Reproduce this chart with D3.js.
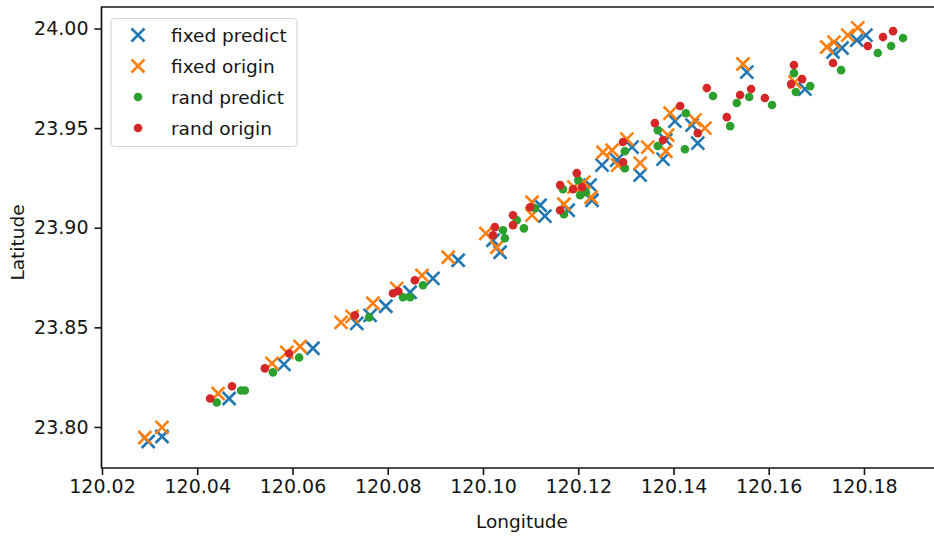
<!DOCTYPE html>
<html>
<head>
<meta charset="utf-8">
<script src="https://cdn.jsdelivr.net/npm/d3@7"></script>
<style>
  html, body { margin: 0; padding: 0; background: #fff; }
  svg { display: block; }
  text { font-family: "DejaVu Sans", sans-serif; fill: #151515; }
</style>
</head>
<body>
<svg id="chart" width="934" height="536"></svg>
<script>
// ---- data ----
const fixedPredictLon = [120.0297,120.0326,120.0467,120.0582,120.0643,120.0735,120.0763,120.0796,120.0847,120.0895,120.0948,120.1021,120.1036,120.1120,120.1130,120.1179,120.1225,120.1229,120.1250,120.1281,120.1313,120.1330,120.1378,120.1384,120.1403,120.1439,120.1451,120.1554,120.1676,120.1735,120.1754,120.1785,120.1804];
const fixedPredictLat = [23.7927,23.7952,23.8143,23.8314,23.8395,23.8520,23.8560,23.8606,23.8676,23.8746,23.8837,23.8937,23.8877,23.9113,23.9058,23.9088,23.9214,23.9138,23.9314,23.9339,23.9405,23.9264,23.9344,23.9440,23.9535,23.9515,23.9425,23.9781,23.9696,23.9882,23.9902,23.9942,23.9967];

const fixedOriginLon = [120.0290,120.0326,120.0444,120.0557,120.0588,120.0616,120.0702,120.0725,120.0769,120.0819,120.0872,120.0927,120.1006,120.1029,120.1103,120.1103,120.1170,120.1191,120.1212,120.1227,120.1252,120.1271,120.1283,120.1302,120.1330,120.1346,120.1384,120.1388,120.1393,120.1445,120.1466,120.1546,120.1655,120.1722,120.1737,120.1766,120.1787];
const fixedOriginLat = [23.7947,23.7998,23.8168,23.8319,23.8374,23.8404,23.8525,23.8555,23.8621,23.8696,23.8761,23.8852,23.8972,23.8902,23.9128,23.9063,23.9118,23.9204,23.9229,23.9153,23.9379,23.9389,23.9314,23.9445,23.9324,23.9405,23.9384,23.9465,23.9575,23.9540,23.9500,23.9822,23.9731,23.9907,23.9932,23.9967,24.0003];

const randPredictLon = [120.0441,120.0492,120.0500,120.0559,120.0614,120.0761,120.0832,120.0847,120.0874,120.1042,120.1046,120.1071,120.1086,120.1109,120.1168,120.1170,120.1200,120.1204,120.1216,120.1298,120.1298,120.1367,120.1367,120.1424,120.1426,120.1483,120.1519,120.1533,120.1559,120.1607,120.1653,120.1657,120.1687,120.1752,120.1829,120.1857,120.1882];
const randPredictLat = [23.8123,23.8183,23.8183,23.8274,23.8349,23.8550,23.8651,23.8651,23.8711,23.8987,23.8947,23.9038,23.8997,23.9098,23.9193,23.9068,23.9239,23.9163,23.9178,23.9384,23.9299,23.9490,23.9410,23.9394,23.9575,23.9661,23.9510,23.9626,23.9656,23.9616,23.9776,23.9681,23.9711,23.9791,23.9877,23.9912,23.9952];

const randOriginLon = [120.0427,120.0473,120.0542,120.0593,120.0731,120.0811,120.0822,120.0857,120.1025,120.1021,120.1063,120.1063,120.1099,120.1162,120.1162,120.1197,120.1189,120.1208,120.1294,120.1294,120.1361,120.1378,120.1414,120.1451,120.1470,120.1512,120.1540,120.1563,120.1592,120.1653,120.1647,120.1670,120.1735,120.1808,120.1840,120.1861];
const randOriginLat = [23.8143,23.8204,23.8294,23.8369,23.8560,23.8671,23.8681,23.8736,23.9003,23.8962,23.9063,23.9013,23.9103,23.9214,23.9088,23.9274,23.9193,23.9204,23.9430,23.9329,23.9525,23.9440,23.9611,23.9475,23.9701,23.9555,23.9666,23.9696,23.9651,23.9817,23.9721,23.9746,23.9827,23.9912,23.9957,23.9987];

const xTicks = [120.02,120.04,120.06,120.08,120.10,120.12,120.14,120.16,120.18];
const yTicks = [23.80,23.85,23.90,23.95,24.00];
const seriesNames = ["fixed predict","fixed origin","rand predict","rand origin"];
const seriesColors = ["#1f77b4","#ff7f0e","#2ca02c","#d62728"];
const seriesShapes = ["x","x","dot","dot"];

// ---- layout ----
const svg = d3.select("#chart");
const plotLeft = 101.5, plotRight = 935.4, plotTop = 7, plotBottom = 468;

const x = d3.scaleLinear().domain([120.0199, 120.1950]).range([plotLeft, plotRight]);
const y = d3.scaleLinear().domain([23.7794, 24.0108]).range([plotBottom, plotTop]);

const series = [
  {lon: fixedPredictLon, lat: fixedPredictLat},
  {lon: fixedOriginLon, lat: fixedOriginLat},
  {lon: randPredictLon, lat: randPredictLat},
  {lon: randOriginLon, lat: randOriginLat}
].map((s, i) => ({
  name: seriesNames[i], color: seriesColors[i], shape: seriesShapes[i],
  points: s.lon.map((v, j) => ({lon: v, lat: s.lat[j]}))
}));

svg.append("defs").append("clipPath").attr("id", "clip")
  .append("rect").attr("x", plotLeft).attr("y", plotTop)
  .attr("width", plotRight - plotLeft).attr("height", plotBottom - plotTop);

const xs = 6.5, xStroke = 2.6, dotR = 4.3;

function drawMarker(g, shape, color) {
  if (shape === "x") {
    g.append("path")
      .attr("d", `M${-xs},${-xs}L${xs},${xs}M${-xs},${xs}L${xs},${-xs}`)
      .attr("stroke", color).attr("stroke-width", xStroke).attr("fill", "none");
  } else {
    g.append("circle").attr("r", dotR).attr("fill", color);
  }
}

const plot = svg.append("g").attr("clip-path", "url(#clip)");
series.forEach(s => {
  const gs = plot.append("g");
  s.points.forEach(p => {
    const g = gs.append("g").attr("transform", `translate(${x(p.lon)},${y(p.lat)})`);
    drawMarker(g, s.shape, s.color);
  });
});

// ---- axes ----
const xAxis = d3.axisBottom(x).tickValues(xTicks).tickFormat(d3.format(".2f")).tickSize(7).tickPadding(5);
const gx = svg.append("g").attr("transform", `translate(0,${plotBottom})`).call(xAxis);
gx.select(".domain").remove();
gx.selectAll(".tick line").attr("stroke", "#151515").attr("stroke-width", 1.6);
gx.selectAll(".tick text").style("font-size", "19px").attr("fill", "#151515").style("font-family", "DejaVu Sans");

const yAxis = d3.axisLeft(y).tickValues(yTicks).tickFormat(d3.format(".2f")).tickSize(7).tickPadding(6);
const gy = svg.append("g").attr("transform", `translate(${plotLeft},0)`).call(yAxis);
gy.select(".domain").remove();
gy.selectAll(".tick line").attr("stroke", "#151515").attr("stroke-width", 1.6);
gy.selectAll(".tick text").style("font-size", "19px").attr("fill", "#151515").style("font-family", "DejaVu Sans");

// spines (right spine lies outside the picture)
svg.append("path")
  .attr("d", `M${plotRight + 5},${plotTop}H${plotLeft}V${plotBottom}H${plotRight + 5}`)
  .attr("fill", "none").attr("stroke", "#151515").attr("stroke-width", 1.7);

// axis labels
svg.append("text").attr("x", (102 + 934) / 2 + 4).attr("y", 528)
  .attr("text-anchor", "middle").style("font-size", "18.5px").text("Longitude");
svg.append("text").attr("transform", `translate(24,${(plotTop + plotBottom) / 2 + 5}) rotate(-90)`)
  .attr("text-anchor", "middle").style("font-size", "18.5px").text("Latitude");

// ---- legend ----
const lg = svg.append("g");
lg.append("rect").attr("x", 111).attr("y", 18.5).attr("width", 186).attr("height", 128)
  .attr("rx", 4).attr("fill", "#fff").attr("fill-opacity", 0.85)
  .attr("stroke", "#d6d6d6").attr("stroke-width", 1.2);
series.forEach((s, i) => {
  const cy = 35 + i * 31;
  const g = lg.append("g").attr("transform", `translate(138,${cy})`);
  drawMarker(g, s.shape, s.color);
  lg.append("text").attr("x", 171).attr("y", cy + 6.5).style("font-size", "18.5px").text(s.name);
});
</script>
</body>
</html>
